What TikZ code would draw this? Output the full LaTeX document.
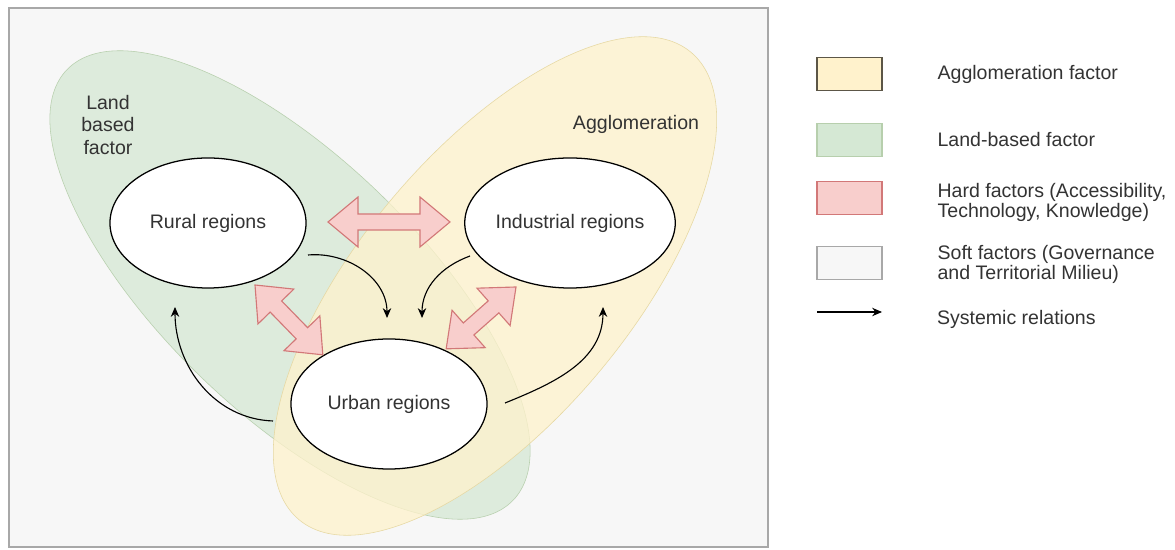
\documentclass[tikz,border=0pt]{standalone}
\usepackage{fontspec}
\setmainfont{Liberation Sans}
\usepackage{tikz}
\usetikzlibrary{arrows.meta,shapes.geometric,positioning,calc}

\definecolor{aggfill}{HTML}{FFF2CC}
\definecolor{aggline}{HTML}{E6D8A2}
\definecolor{aggkeyline}{HTML}{5C5647}
\definecolor{landfill}{HTML}{D5E8D4}
\definecolor{landline}{HTML}{B7CFAD}
\definecolor{hardfill}{HTML}{F8CECC}
\definecolor{hardline}{HTML}{D27878}
\definecolor{softfill}{HTML}{F7F7F7}
\definecolor{softline}{HTML}{A8A8A8}
\definecolor{txt}{HTML}{333333}

% fat two-headed arrow from #1 to #2 (sizes in px units)
\newcommand{\hardarrow}[2]{%
  \path let \p1=(#1), \p2=(#2) in
    \pgfextra{\pgfmathsetmacro\hardang{atan2(\y2-\y1,\x2-\x1)}%
      \pgfmathsetmacro\hardlen{veclen(\x2-\x1,\y2-\y1)/0.711319}%
      \global\let\hardang\hardang \global\let\hardlen\hardlen};
  \begin{scope}[shift={(#1)}, rotate=\hardang]
    \filldraw[hard] (0,0) -- (30,25) -- (30,8) -- (\hardlen-30,8) -- (\hardlen-30,25)
      -- (\hardlen,0) -- (\hardlen-30,-25) -- (\hardlen-30,-8) -- (30,-8) -- (30,-25) -- cycle;
  \end{scope}}

\begin{document}
\begin{tikzpicture}[x=0.025cm, y=0.025cm, >={Stealth[length=7pt,width=6pt]},
    font=\fontsize{13.9}{16}\selectfont]
		\tikzstyle{region} = [draw, line width=0.9pt, ellipse, fill=white, text=txt, minimum width=4.9cm, minimum height=3.25cm, inner sep=0pt]
		\tikzstyle{hard} = [fill=hardfill, draw=hardline, line width=0.8pt]
		\tikzstyle{sys} = [->, line width=0.8pt, black]
		\tikzstyle{key} = [draw, line width=0.8pt, minimum width=1.625cm, minimum height=0.825cm, inner sep=0pt]
		\tikzstyle{keytext} = [align=left, inner sep=0pt, outer sep=0pt, text=txt, font=\fontsize{13.9}{14.2}\selectfont]

		\useasboundingbox (0,0) rectangle (1175,550);
		\filldraw[fill=softfill, draw=softline, line width=1.2pt] (9,3) rectangle (768,542);

		% factor areas
		\filldraw[fill=landfill, draw=landline, fill opacity=0.75, rotate around={-44:(290,265)}]
			(290,265) ellipse [x radius=310, y radius=128];
		\filldraw[fill=aggfill, draw=aggline, fill opacity=0.75, rotate around={50:(495,264)}]
			(495,264) ellipse [x radius=305, y radius=135];

		\node[text=txt, align=center] (land) at (108,425) {Land\\based\\factor};
		\node[text=txt] (agg) at (636,426) {Agglomeration};

		\node[region] (rural) at (208,327) {Rural regions};
		\node[region] (industrial) at (570,327) {Industrial regions};
		\node[region] (urban) at (389,146) {Urban regions};

		% hard factors
		\coordinate (ri-a) at ([shift={(120,1)}]rural.center);
		\coordinate (ri-b) at ([shift={(-120,1)}]industrial.center);
		\coordinate (ru-a) at ([shift={(47,-62)}]rural.center);
		\coordinate (ru-b) at ([shift={(-66,49)}]urban.center);
		\coordinate (iu-a) at ([shift={(-54,-64)}]industrial.center);
		\coordinate (iu-b) at ([shift={(57,55)}]urban.center);
		\hardarrow{ri-a}{ri-b}
		\hardarrow{ru-a}{ru-b}
		\hardarrow{iu-a}{iu-b}

		% systemic relations
		\coordinate (r-out) at ([shift={(100,-32)}]rural.center);
		\coordinate (i-out) at ([shift={(-100,-33)}]industrial.center);
		\coordinate (u-in1) at ([shift={(-2,86)}]urban.center);
		\coordinate (u-in2) at ([shift={(33,86)}]urban.center);
		\coordinate (u-out1) at ([shift={(-116,-17)}]urban.center);
		\coordinate (u-out2) at ([shift={(116,1)}]urban.center);
		\coordinate (r-in) at ([shift={(-33,-84)}]rural.center);
		\coordinate (i-in) at ([shift={(33,-84)}]industrial.center);
		\path[sys]
		(r-out) edge[out=5, in=90] (u-in1)
		(i-out) edge[out=200, in=90] (u-in2)
		(u-out1) edge[out=178, in=-90] (r-in)
		(u-out2) edge[out=22, in=-90] (i-in)
		;

		% legend
		\node[key, fill=aggfill, draw=aggkeyline] (aggkey) at (849.5,476) {};
		\node[key, fill=landfill, draw=landline] (landkey) at (849.5,410) {};
		\node[key, fill=hardfill, draw=hardline] (hardkey) at (849.5,352) {};
		\node[key, fill=softfill, draw=softline] (softkey) at (849.5,287) {};
		\coordinate (syskey-a) at (817,238);
		\coordinate (syskey-b) at (882,238);
		\draw[sys] (syskey-a) -- (syskey-b);

		\node[keytext, right=1.375cm of aggkey] (aggtext) {Agglomeration factor};
		\node[keytext, right=1.375cm of landkey] (landtext) {Land-based factor};
		\node[keytext, right=1.375cm of hardkey, yshift=-3] (hardtext) {Hard factors (Accessibility,\\Technology, Knowledge)};
		\node[keytext, right=1.375cm of softkey, yshift=-1] (softtext) {Soft factors (Governance\\and Territorial Milieu)};
		\node[keytext, right=1.375cm of syskey-b, yshift=-5] (systext) {Systemic relations};

		\end{tikzpicture}
\end{document}
